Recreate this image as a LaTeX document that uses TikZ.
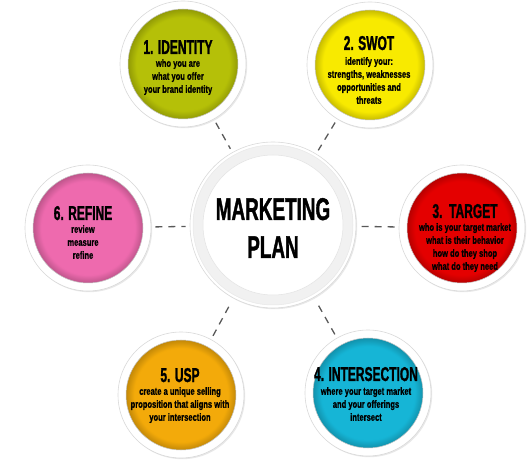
\documentclass[tikz,border=0pt]{standalone}
\usepackage{fontspec}
\newfontfamily\impactT{Liberation Sans Bold}[FakeStretch=0.6, FakeBold=1.2]
\newfontfamily\impactB{Liberation Sans Bold}[FakeStretch=0.72, FakeBold=0.8]
\usetikzlibrary{fadings,shadows}
\definecolor{cIdent}{RGB}{181,192,8}
\definecolor{cSwot}{RGB}{248,234,0}
\definecolor{cTarget}{RGB}{228,0,0}
\definecolor{cInter}{RGB}{22,181,214}
\definecolor{cUsp}{RGB}{243,170,10}
\definecolor{cRefine}{RGB}{238,106,174}
\tikzset{
  ring/.style={circle, fill=white, draw=gray!30, line width=0.6pt, inner sep=0pt,
    minimum size=126pt, drop shadow={opacity=0.18, shadow xshift=1.2pt, shadow yshift=-1.2pt}},
  ttl/.style={font=\impactT\fontsize{20}{22}\selectfont, inner sep=0pt, anchor=base, text depth=0pt, text=black},
  bdy/.style={font=\impactB\fontsize{10.5}{13}\selectfont, align=center, inner sep=0pt, anchor=north, text=black},
  conn/.style={draw=black!65, line width=1.3pt, dash pattern=on 7pt off 6pt, shorten <=4pt, shorten >=4pt}
}
\newcommand{\colordisc}[2]{%
  \fill[#2!80!black] (#1) circle (55pt);
  \fill[#2, path fading=circle with fuzzy edge 15 percent] (#1) circle (55pt);
  \draw[gray!45, line width=0.5pt] (#1) circle (55pt);
}
\begin{document}
\begin{tikzpicture}[x=1pt,y=-1pt]
\useasboundingbox (0,0) rectangle (528,473);
% outer circles
\node[ring] (n1) at (183,64) {};
\node[ring] (n2) at (370,65) {};
\node[ring] (n3) at (462,228) {};
\node[ring] (n4) at (368,393) {};
\node[ring] (n5) at (181,395) {};
\node[ring] (n6) at (88,228) {};
\node[ring, minimum size=166pt] (c) at (273,225) {};
% connectors
\draw[conn] (n1) -- (c);
\draw[conn] (n2) -- (c);
\draw[conn] (n3) -- (c);
\draw[conn] (n4) -- (c);
\draw[conn] (n5) -- (c);
\draw[conn] (n6) -- (c);
% center ring
\fill[gray!11] (c.center) circle (80pt);
\fill[white] (c.center) circle (70pt);
\draw[gray!22, line width=0.5pt] (c.center) circle (70pt);
\draw[gray!18, line width=0.5pt] (c.center) circle (80pt);
% coloured discs
\colordisc{n1}{cIdent}
\colordisc{n2}{cSwot}
\colordisc{n3}{cTarget}
\colordisc{n4}{cInter}
\colordisc{n5}{cUsp}
\colordisc{n6}{cRefine}
% center text
\node[font=\impactT\fontsize{31.5}{38}\selectfont, inner sep=0pt, anchor=base] (ct1) at (273,220) {MARKETING};
\node[font=\impactT\fontsize{31.5}{38}\selectfont, inner sep=0pt, anchor=base] (ct2) at (273,258) {PLAN};
% texts
\node[ttl] (t1) at (178,54) {1. IDENTITY};
\node[bdy] (b1) at (178,59) {who you are\\what you offer\\your brand identity};
\node[ttl] (t2) at (369,50) {2. SWOT};
\node[bdy] (b2) at (369,57) {identify your:\\strengths, weaknesses\\opportunities and\\threats};
\node[ttl] (t3) at (465,218) {3.\ \ TARGET};
\node[bdy] (b3) at (465,223) {who is your target market\\what is their behavior\\how do they shop\\what do they need};
\node[ttl] (t4) at (366,381) {4. INTERSECTION};
\node[bdy] (b4) at (366,387) {where your target market\\and your offerings\\intersect};
\node[ttl] (t5) at (180,382) {5. USP};
\node[bdy] (b5) at (180,387) {create a unique selling\\proposition that aligns with\\your intersection};
\node[ttl] (t6) at (83,220) {6. REFINE};
\node[bdy] (b6) at (83,225) {review\\measure\\refine};
\end{tikzpicture}
\end{document}
